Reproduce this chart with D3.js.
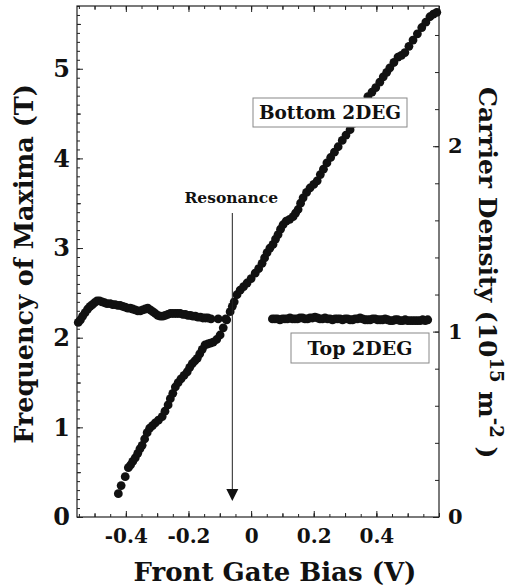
<!DOCTYPE html>
<html>
<head>
<meta charset="utf-8">
<script src="https://cdn.jsdelivr.net/npm/d3@7"></script>
<style>
  html, body { margin: 0; padding: 0; background: #fff; }
  svg { display: block; }
  text { font-family: "DejaVu Serif", serif; font-weight: bold; fill: #111; }
</style>
</head>
<body>
<svg id="chart" width="516" height="588"></svg>
<script>
// Front gate bias (V) vs. frequency of magnetoresistance maxima (T)
const bottomBias = [-0.424,-0.415,-0.402,-0.392,-0.385,-0.378,-0.370,-0.362,-0.355,-0.348,-0.340,-0.332,-0.324,-0.315,-0.306,-0.296,-0.284,-0.275,-0.265,-0.258,-0.250,-0.242,-0.233,-0.224,-0.214,-0.204,-0.196,-0.188,-0.180,-0.172,-0.164,-0.156,-0.147,-0.138,-0.130,-0.121,-0.110,-0.099,-0.089,-0.078,-0.067,-0.060,-0.054,-0.045,-0.035,-0.024,-0.013,0.000,0.013,0.024,0.035,0.043,0.051,0.060,0.070,0.078,0.086,0.094,0.102,0.112,0.123,0.134,0.142,0.150,0.158,0.166,0.177,0.188,0.200,0.211,0.221,0.231,0.242,0.254,0.266,0.278,0.291,0.303,0.316,0.327,0.338,0.350,0.362,0.373,0.386,0.398,0.411,0.422,0.433,0.443,0.456,0.469,0.480,0.491,0.504,0.517,0.531,0.545,0.558,0.571,0.582,0.593];
const bottomFreq = [0.26,0.35,0.45,0.55,0.58,0.62,0.66,0.71,0.76,0.80,0.87,0.94,0.99,1.02,1.05,1.08,1.12,1.18,1.25,1.32,1.38,1.45,1.50,1.54,1.58,1.62,1.67,1.71,1.74,1.77,1.82,1.87,1.92,1.93,1.94,1.95,1.98,2.03,2.11,2.20,2.29,2.35,2.40,2.48,2.53,2.57,2.61,2.66,2.72,2.77,2.83,2.89,2.95,3.00,3.04,3.10,3.15,3.21,3.26,3.30,3.32,3.35,3.39,3.43,3.50,3.56,3.62,3.67,3.71,3.75,3.82,3.88,3.95,4.01,4.07,4.13,4.20,4.26,4.32,4.39,4.46,4.54,4.62,4.69,4.74,4.79,4.85,4.91,4.96,5.01,5.07,5.13,5.15,5.18,5.25,5.32,5.39,5.46,5.52,5.58,5.61,5.63];

const topBias = [-0.552,-0.545,-0.538,-0.530,-0.522,-0.514,-0.507,-0.500,-0.492,-0.484,-0.476,-0.468,-0.460,-0.450,-0.442,-0.434,-0.426,-0.418,-0.410,-0.402,-0.394,-0.386,-0.378,-0.370,-0.362,-0.354,-0.346,-0.338,-0.330,-0.322,-0.314,-0.306,-0.298,-0.290,-0.282,-0.274,-0.266,-0.258,-0.250,-0.242,-0.234,-0.226,-0.218,-0.210,-0.202,-0.194,-0.186,-0.178,-0.170,-0.162,-0.154,-0.146,-0.138,-0.128,-0.105,-0.081,
  0.068,0.076,0.084,0.092,0.100,0.108,0.116,0.124,0.132,0.140,0.148,0.156,0.164,0.172,0.180,0.188,0.196,0.204,0.212,0.220,0.228,0.236,0.244,0.252,0.260,0.268,0.276,0.284,0.292,0.300,0.308,0.316,0.324,0.332,0.340,0.348,0.356,0.364,0.372,0.380,0.388,0.396,0.404,0.412,0.420,0.428,0.436,0.444,0.452,0.460,0.468,0.476,0.484,0.492,0.500,0.508,0.516,0.524,0.532,0.540,0.548,0.556,0.564];
const topFreq = [2.17,2.20,2.24,2.28,2.32,2.35,2.37,2.39,2.41,2.41,2.40,2.39,2.38,2.38,2.37,2.37,2.36,2.36,2.35,2.34,2.33,2.33,2.32,2.31,2.30,2.30,2.31,2.32,2.33,2.31,2.29,2.27,2.25,2.24,2.24,2.25,2.26,2.27,2.27,2.27,2.27,2.27,2.26,2.26,2.25,2.25,2.24,2.24,2.23,2.23,2.22,2.22,2.22,2.21,2.21,2.21,
  2.21,2.21,2.21,2.20,2.21,2.21,2.21,2.22,2.21,2.21,2.21,2.22,2.22,2.21,2.21,2.22,2.22,2.23,2.22,2.21,2.21,2.22,2.21,2.21,2.20,2.21,2.21,2.21,2.20,2.21,2.21,2.20,2.20,2.21,2.21,2.22,2.21,2.20,2.20,2.20,2.21,2.21,2.20,2.20,2.20,2.21,2.20,2.19,2.19,2.20,2.20,2.19,2.19,2.20,2.19,2.19,2.19,2.19,2.19,2.19,2.20,2.19,2.20];

const xTickValues = [-0.4, -0.2, 0, 0.2, 0.4];
const yTickValues = [0, 1, 2, 3, 4, 5];
const y2TickValues = [0, 1, 2];
const resonanceBias = -0.06;

// 1e15 m^-2 corresponds to n*h/(2e) ≈ 2.068 T
const teslaPerDensity = 2.068;

const svg = d3.select("#chart");
const L = 77, R = 439, T = 6, B = 517;

const x = d3.scaleLinear().domain([-0.556, 0.6]).range([L, R]);
const y = d3.scaleLinear().domain([0, 5.7]).range([B, T]);
const y2 = d3.scaleLinear().domain([0, 5.7 / teslaPerDensity]).range([B, T]);

const axisColor = "#222";
function styleAxis(g) {
  g.select(".domain").remove();
  g.selectAll(".tick line").attr("stroke", axisColor).attr("stroke-width", 1);
}

// minor and major ticks on all four sides, pointing inward
const xMinor = d3.range(-0.55, 0.6001, 0.05).map(v => +v.toFixed(2));
const xMid = xMinor.filter(v => Math.abs(Math.round(v * 10) - v * 10) < 1e-6);
const yMinor = d3.range(0, 5.7001, 0.1).map(v => +v.toFixed(1));
const yHalf = d3.range(0.5, 5.7, 1);
const y2Minor = d3.range(0, 2.75, 0.2).map(v => +v.toFixed(1));

function tickSet(axisFn, scale, values, size, tx, ty) {
  svg.append("g").attr("transform", `translate(${tx},${ty})`)
    .call(axisFn(scale).tickValues(values).tickSize(size).tickFormat(""))
    .call(styleAxis);
}
tickSet(d3.axisBottom, x, xMinor, -3, 0, B);
tickSet(d3.axisBottom, x, xMid, -4, 0, B);
tickSet(d3.axisTop, x, xMinor, -3, 0, T);
tickSet(d3.axisTop, x, xMid, -4, 0, T);
tickSet(d3.axisTop, x, xTickValues, -6, 0, T);
tickSet(d3.axisLeft, y, yMinor, -3, L, 0);
tickSet(d3.axisLeft, y, yHalf, -4, L, 0);
tickSet(d3.axisRight, y2, y2Minor, -4, R, 0);

// labelled axes
const fmtX = v => v === 0 ? "0" : v.toFixed(1);
svg.append("g").attr("transform", `translate(0,${B})`)
  .call(d3.axisBottom(x).tickValues(xTickValues).tickSize(-6).tickPadding(12).tickFormat(fmtX))
  .call(styleAxis)
  .call(g => g.selectAll("text").style("font-size", "20px").attr("fill", "#111"));

svg.append("g").attr("transform", `translate(${L},0)`)
  .call(d3.axisLeft(y).tickValues(yTickValues).tickSize(-6).tickPadding(7).tickFormat(d3.format("d")))
  .call(styleAxis)
  .call(g => g.selectAll("text").style("font-size", "24px").attr("fill", "#111"));

svg.append("g").attr("transform", `translate(${R},0)`)
  .call(d3.axisRight(y2).tickValues(y2TickValues).tickSize(-6).tickPadding(9).tickFormat(d3.format("d")))
  .call(styleAxis)
  .call(g => g.selectAll("text").style("font-size", "21px").attr("fill", "#111"));

// frame
svg.append("rect").attr("x", L).attr("y", T).attr("width", R - L).attr("height", B - T)
  .attr("fill", "none").attr("stroke", axisColor).attr("stroke-width", 1.2);

// data
const plot = svg.append("g");
const r = 4.4;
plot.selectAll("circle.bottom").data(d3.zip(bottomBias, bottomFreq)).join("circle")
  .attr("class", "bottom").attr("cx", d => x(d[0])).attr("cy", d => y(d[1])).attr("r", r).attr("fill", "#111");
plot.selectAll("circle.top").data(d3.zip(topBias, topFreq)).join("circle")
  .attr("class", "top").attr("cx", d => x(d[0])).attr("cy", d => y(d[1])).attr("r", r).attr("fill", "#111");

// resonance marker
const rx = x(resonanceBias);
svg.append("line").attr("x1", rx).attr("x2", rx).attr("y1", 213).attr("y2", 492)
  .attr("stroke", "#222").attr("stroke-width", 1);
svg.append("path").attr("d", `M${rx - 6},${489} L${rx + 6},${489} L${rx},${501} Z`).attr("fill", "#111");
svg.append("text").attr("x", rx - 1).attr("y", 203).attr("text-anchor", "middle")
  .style("font-size", "15.5px").text("Resonance");

// series labels
function boxLabel(txt, bx, by, bw, bh, fs) {
  svg.append("rect").attr("x", bx).attr("y", by).attr("width", bw).attr("height", bh)
    .attr("fill", "#fff").attr("stroke", "#888").attr("stroke-width", 1);
  svg.append("text").attr("x", bx + bw / 2).attr("y", by + bh / 2).attr("dy", "0.36em")
    .attr("text-anchor", "middle").style("font-size", fs + "px").text(txt);
}
boxLabel("Bottom 2DEG", 253, 98, 154, 29, 18.5);
boxLabel("Top 2DEG", 291, 333, 138, 30, 19);

// axis titles
svg.append("text").attr("x", 275).attr("y", 581).attr("text-anchor", "middle")
  .style("font-size", "26px").text("Front Gate Bias (V)");

svg.append("text").attr("transform", `translate(33,264) rotate(-90)`)
  .attr("text-anchor", "middle").style("font-size", "25.5px").text("Frequency of Maxima (T)");

const rt = svg.append("text").attr("transform", `translate(479,87) rotate(90)`)
  .attr("text-anchor", "start").style("font-size", "25px");
rt.append("tspan").text("Carrier Density (10");
rt.append("tspan").attr("dy", -11).style("font-size", "18px").text("15");
rt.append("tspan").attr("dy", 11).text(" m");
rt.append("tspan").attr("dy", -11).style("font-size", "18px").text("-2");
rt.append("tspan").attr("dy", 11).text(" )");
</script>
</body>
</html>
